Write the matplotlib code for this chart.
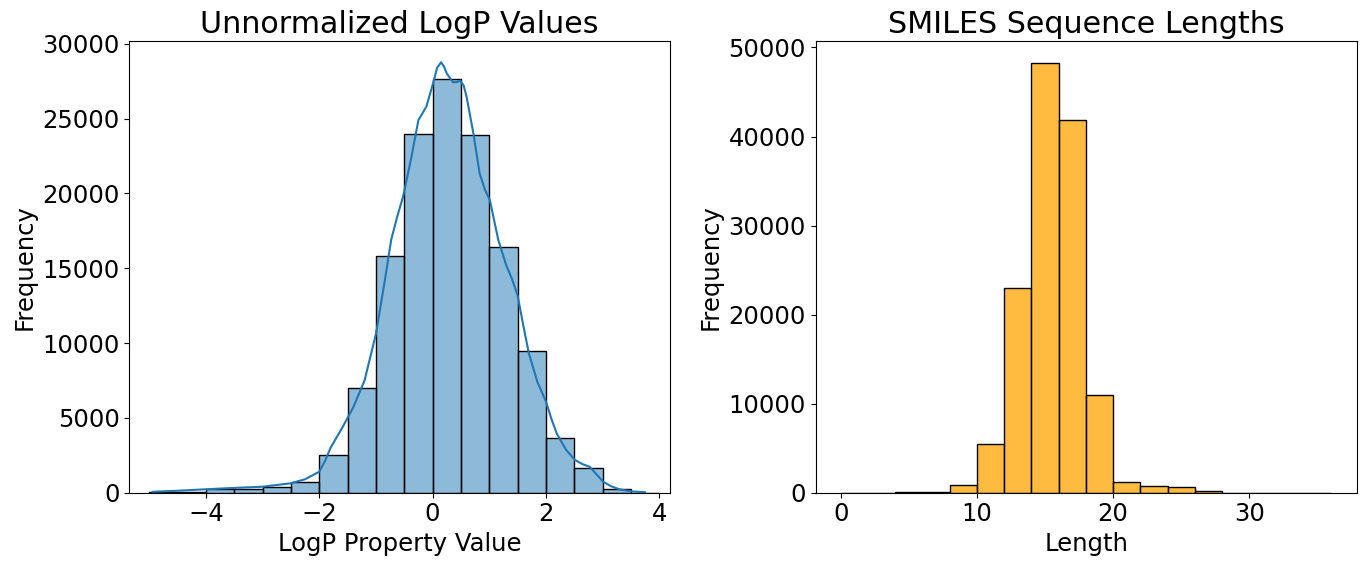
import numpy as np
import matplotlib
matplotlib.use("Agg")
import matplotlib.pyplot as plt
from matplotlib.colors import to_rgba

# LogP histogram (bin width 0.5)
logp_edges = [-5.0, -4.5, -4.0, -3.5, -3.0, -2.5, -2.0, -1.5, -1.0, -0.5,
              0.0, 0.5, 1.0, 1.5, 2.0, 2.5, 3.0, 3.5, 4.0]
logp_counts = [30, 60, 230, 280, 350, 700, 2520, 7000, 15820, 23960,
               27630, 23890, 16420, 9470, 3680, 1670, 270, 10]

# KDE curve
kde_x = [-4.94, -4.5, -4.0, -3.5, -3.0, -2.5, -2.25, -2.0, -1.9, -1.8,
         -1.6, -1.4, -1.2, -1.0, -0.85, -0.73, -0.62, -0.52, -0.38, -0.25,
         -0.11, 0.01, 0.08, 0.15, 0.2, 0.25, 0.36, 0.43, 0.49, 0.55,
         0.6, 0.72, 0.83, 0.92, 1.01, 1.16, 1.3, 1.4, 1.5, 1.6,
         1.7, 1.85, 2.0, 2.1, 2.19, 2.35, 2.51, 2.65, 2.77, 2.9,
         3.01, 3.15, 3.3, 3.5, 3.75]
kde_y = [60, 130, 230, 320, 400, 630, 900, 1400, 2100, 3000,
         4300, 5700, 7500, 10600, 14000, 16900, 18500, 19790, 22300, 24900,
         25800, 27370, 28400, 28770, 28500, 28030, 27430, 27450, 27540, 27200,
         26470, 24020, 21350, 20300, 19570, 16890, 15200, 14300, 13200, 11200,
         9300, 7400, 6100, 4900, 3970, 2900, 2190, 1900, 1740, 1200,
         735, 430, 225, 90, 30]

# SMILES length histogram (bin width 2)
len_edges = [0, 2, 4, 6, 8, 10, 12, 14, 16, 18, 20, 22, 24, 26, 28, 30, 32, 34, 36]
len_counts = [5, 10, 60, 120, 900, 5480, 22940, 48280, 41860, 11000,
              1200, 750, 650, 180, 10, 5, 3, 2]

plt.rcParams['font.size'] = 17.5

fig = plt.figure(figsize=(13.66, 5.66), dpi=100)
ax1 = fig.add_axes([0.0947, 0.1295, 0.3958, 0.7975])
ax2 = fig.add_axes([0.5971, 0.1295, 0.3963, 0.7975])

e = np.array(logp_edges)
ax1.bar(e[:-1], logp_counts, width=np.diff(e), align='edge',
        color=to_rgba('#1f77b4', 0.5), edgecolor='black', linewidth=1)
ax1.plot(kde_x, kde_y, color='#1f77b4', linewidth=1.5)
ax1.set_xlim(-5.35, 4.19)
ax1.set_ylim(0, 30170)
ax1.set_title('Unnormalized LogP Values', fontsize=21.7)
ax1.set_xlabel('LogP Property Value')
ax1.set_ylabel('Frequency')

e2 = np.array(len_edges)
ax2.bar(e2[:-1], len_counts, width=np.diff(e2), align='edge',
        color=to_rgba('orange', 0.75), edgecolor='black', linewidth=1)
ax2.set_xlim(-1.84, 37.9)
ax2.set_title('SMILES Sequence Lengths', fontsize=21.7)
ax2.set_xlabel('Length')
ax2.set_ylabel('Frequency')

fig.savefig('out.png', dpi=100)
